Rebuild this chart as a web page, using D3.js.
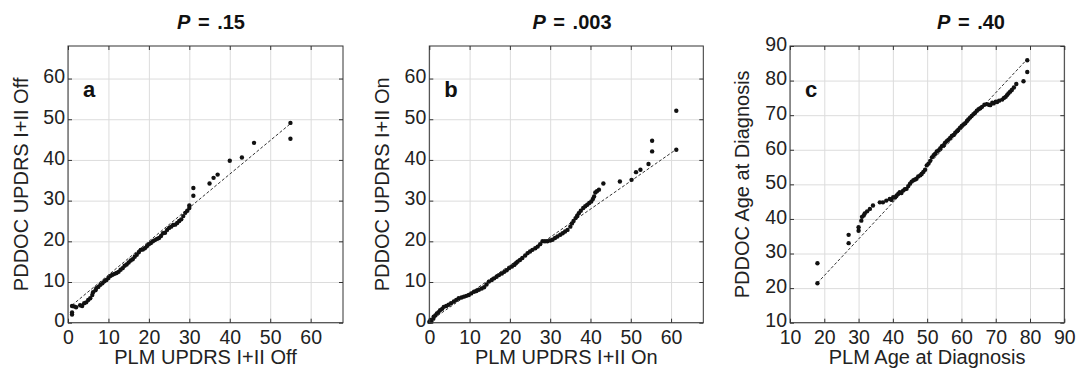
<!DOCTYPE html>
<html><head><meta charset="utf-8">
<script src="https://cdn.jsdelivr.net/npm/d3@7"></script>
<style>
html,body{margin:0;padding:0;background:#fff;}
text{font-family:"Liberation Sans",Arial,sans-serif;}
</style></head>
<body><svg id="chart" width="1079" height="372"></svg>
<script>
// ---------- data ----------
const plmA = [1,1,1,1.5,2,3,3.5,4,4.5,5,5.5,6,6.2,6.8,7,7.5,8,8.5,9,9.5,10,10.5,11,11.5,12,12.5,13,13.5,14,14.5,15,15.5,16,16.5,17,17.5,18,18.5,19,19.5,20,20.5,21,21.5,22,22.5,23,23.5,24,24.5,25,25.5,26,26.5,27,27.5,28,28.5,29,29.5,30,30,31,31,35,36,37,40,43,46,55,55];
const pddocA = [2,2.5,4.1,4,3.8,4.3,4.1,4.8,5,5.6,6,6.8,7.5,8,8.5,8.8,9.3,9.7,10.2,10.5,11,11.5,11.8,12,12.2,12.5,13,13.4,14,14.3,14.8,15.3,15.6,16.2,16.7,17.3,17.9,18,18.3,18.8,19.3,19.6,20,20.3,20.6,20.8,21.3,22,22.1,22.8,23.3,23.6,24,24.1,24.5,25,25.4,26.2,27,27.5,28.2,28.8,31.2,33.1,34.2,35.6,36.4,39.8,40.6,44.2,49.1,45.2];
const refA_x = [1,55], refA_y = [4.3,48.9];

const plmB = [0,0.3,0.5,1,1.1,1.5,1.9,2.3,2.7,3.2,3.6,4.2,4.8,5.4,6.1,6.7,7.3,8,8.6,9.2,9.8,10.4,11.1,11.7,12.3,13,13.6,14.2,14.8,15.5,16.1,16.7,17.3,18,18.6,19.2,19.8,20.5,21.1,21.5,21.9,22.5,23.1,23.8,24.4,25,25.6,26.3,26.9,27.5,28.1,28.7,29.3,30,30.6,31.2,31.8,32.5,33.1,33.7,34.3,35,35.4,35.8,36.3,36.7,37.1,37.6,38.2,38.7,39.2,39.7,40.2,40.6,40.9,41.2,41.6,42.1,43.2,47.3,50.2,51.3,52.4,54.4,55.3,55.3,61.3,61.3];
const pddocB = [0.2,0.7,0.3,1,1.5,1.8,2.3,2.6,3.1,3.4,3.9,4.1,4.4,4.8,5.2,5.6,6,6.2,6.4,6.6,6.8,7.2,7.6,7.8,8.1,8.4,8.7,9.4,10.1,10.5,10.9,11.3,11.7,12.1,12.5,12.9,13.4,13.8,14.2,14.6,15,15.4,15.9,16.5,17.1,17.5,17.9,18.3,18.7,19.3,20,20,20,20.2,20.4,20.8,21.2,21.6,22,22.4,22.8,23.6,24.4,25,25.7,26.3,26.9,27.5,28.2,28.6,29,29.4,29.8,30.4,31,32,32.3,32.7,34.2,34.7,35.1,37,37.6,39,42.1,44.7,42.5,52.1];
const refB_x = [0,61], refB_y = [0.3,42.4];

const plmC = [18,18,27.1,27.1,30,30,30.8,31,31.5,31.8,32.5,33.3,34.2,36.2,37.1,38.1,39.1,39.6,40.1,40.6,41.1,41.6,42,42.5,43,43.5,44,44.5,45,45.5,46,46.5,46.9,47.4,48,48.4,48.9,49.4,49.9,50.4,50.9,51.4,51.9,52.3,52.8,53.3,53.8,54.3,54.8,55.2,55.7,56.2,56.7,57.2,57.7,58.2,58.7,59.1,59.6,60.1,60.6,61.1,61.6,62,62.5,63,63.5,64,64.5,65,65.5,66,66.7,67.4,68,68.4,69,69.4,70,70.4,71,71.9,72.4,72.9,73.3,73.7,74.2,74.7,75.3,76,78.1,79.2,79.2];
const pddocC = [21.4,27.2,33,35.4,36.6,37.6,39.5,40.6,41,41.6,42.2,42.9,43.9,44.8,44.8,45.3,45.8,45.5,46.3,46.2,46.8,47.3,47.7,47.5,48.2,48.6,48.7,49.5,50.2,50.8,51.2,51.4,51.6,52.3,52.6,53,53.6,54.2,55.5,56,56.8,57.8,58.4,58.8,59.5,59.8,60.4,61,61.3,62,62.5,62.9,63.4,64,64.3,64.9,65.4,65.8,66.4,66.9,67.3,67.7,68.3,68.8,69.3,69.8,70.3,70.7,71.3,71.7,72,72.4,73,73.2,73,72.9,73.6,73.4,73.9,73.8,74.2,74.5,75,75.3,75.8,76.3,76.8,77.3,78,79,79.8,82.5,85.9];
const refC_x = [18,79], refC_y = [21.5,86];

const ticksAB = [0,10,20,30,40,50,60];
const ticksC = [10,20,30,40,50,60,70,80,90];
const titleValues = ["= .15","= .003","= .40"];
const panelLetters = ["a","b","c"];
const xLabels = ["PLM UPDRS I+II Off","PLM UPDRS I+II On","PLM Age at Diagnosis"];
const yLabels = ["PDDOC UPDRS I+II Off","PDDOC UPDRS I+II On","PDDOC Age at Diagnosis"];

// ---------- layout ----------
const svg = d3.select("#chart");
const plotTop = 46, plotBottom = 322.7;
const panels = [
  {left:68, right:343, domain:[0,68], ticks:ticksAB, xs:plmA, ys:pddocA, rx:refA_x, ry:refA_y, titleX:211, ylabX:28},
  {left:429.3, right:703.3, domain:[0,68], ticks:ticksAB, xs:plmB, ys:pddocB, rx:refB_x, ry:refB_y, titleX:572, ylabX:389},
  {left:790, right:1064.3, domain:[10,90], ticks:ticksC, xs:plmC, ys:pddocC, rx:refC_x, ry:refC_y, titleX:971, ylabX:749}
];
const tickFs = 19.5, labelFs = 20;

panels.forEach((p,i)=>{
  const x = d3.scaleLinear().domain(p.domain).range([p.left,p.right]);
  const y = d3.scaleLinear().domain(p.domain).range([plotBottom,plotTop]);
  const g = svg.append("g");
  const W = p.right-p.left, H = plotBottom-plotTop;

  // grid
  g.append("g").attr("transform",`translate(0,${plotBottom})`)
    .call(d3.axisBottom(x).tickValues(p.ticks).tickSize(-H).tickFormat(""))
    .call(a=>{a.select(".domain").remove(); a.selectAll("line").attr("stroke","#dcdcdc").attr("stroke-width",1);});
  g.append("g").attr("transform",`translate(${p.left},0)`)
    .call(d3.axisLeft(y).tickValues(p.ticks).tickSize(-W).tickFormat(""))
    .call(a=>{a.select(".domain").remove(); a.selectAll("line").attr("stroke","#dcdcdc").attr("stroke-width",1);});

  // reference dashed line
  g.append("line")
    .attr("x1",x(p.rx[0])).attr("y1",y(p.ry[0]))
    .attr("x2",x(p.rx[1])).attr("y2",y(p.ry[1]))
    .attr("stroke","#333").attr("stroke-width",1).attr("stroke-dasharray","3,2");

  // points
  g.selectAll("circle.pt").data(p.xs.map((v,k)=>[v,p.ys[k]])).enter()
    .append("circle").attr("class","pt")
    .attr("cx",d=>x(d[0])).attr("cy",d=>y(d[1])).attr("r",2.2).attr("fill","#111");

  // axes with inward ticks
  const styleAxis = a=>{a.select(".domain").remove(); a.selectAll("line").attr("stroke","#333");
    a.selectAll("text").attr("font-size",tickFs).attr("fill","#222").attr("font-family","Liberation Sans, Arial, sans-serif");};
  g.append("g").attr("transform",`translate(0,${plotBottom})`)
    .call(d3.axisBottom(x).tickValues(p.ticks).tickSize(-4).tickPadding(7)).call(styleAxis);
  g.append("g").attr("transform",`translate(${p.left},0)`)
    .call(d3.axisLeft(y).tickValues(p.ticks).tickSize(-4).tickPadding(3)).call(styleAxis)
    .call(a=>a.selectAll("text").attr("dy","0.22em"));
  g.append("g").attr("transform",`translate(0,${plotTop})`)
    .call(d3.axisTop(x).tickValues(p.ticks).tickSize(-4).tickFormat("")).call(styleAxis);
  g.append("g").attr("transform",`translate(${p.right},0)`)
    .call(d3.axisRight(y).tickValues(p.ticks).tickSize(-4).tickFormat("")).call(styleAxis);

  // box
  g.append("rect").attr("x",p.left).attr("y",plotTop).attr("width",W).attr("height",H)
    .attr("fill","none").attr("stroke","#333").attr("stroke-width",1);

  // panel letter
  g.append("text").attr("x",p.left+15).attr("y",97).attr("font-size",22).attr("font-weight","bold")
    .attr("fill","#111").text(panelLetters[i]);

  // title
  const t = g.append("text").attr("x",p.titleX).attr("y",29).attr("text-anchor","middle")
    .attr("font-size",20).attr("font-weight","bold").attr("fill","#111").attr("word-spacing",2);
  t.append("tspan").attr("font-style","italic").text("P");
  t.append("tspan").text(" "+titleValues[i]);

  // axis labels
  g.append("text").attr("x",(p.left+p.right)/2).attr("y",364).attr("text-anchor","middle")
    .attr("font-size",labelFs).attr("fill","#222").text(xLabels[i]);
  g.append("text").attr("transform",`translate(${p.ylabX},${(plotTop+plotBottom)/2}) rotate(-90)`)
    .attr("text-anchor","middle").attr("font-size",labelFs).attr("fill","#222").text(yLabels[i]);
});
</script></body></html>
